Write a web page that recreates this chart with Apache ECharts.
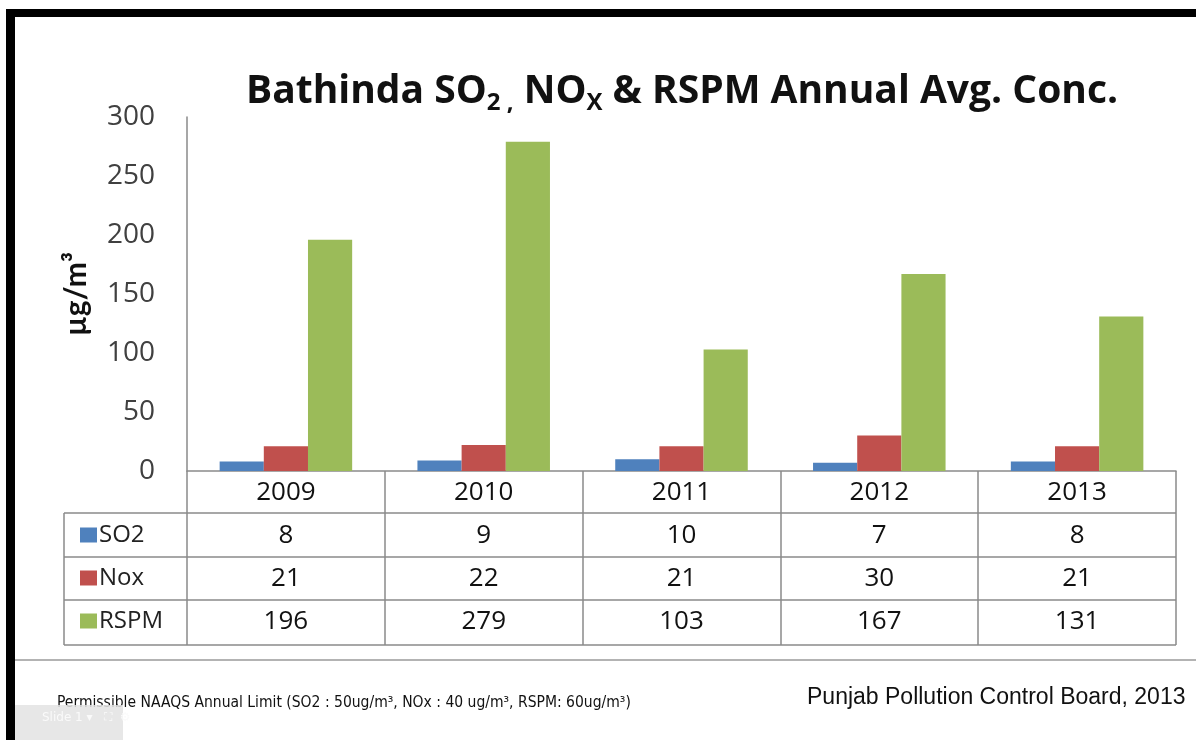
<!DOCTYPE html>
<html>
<head>
<meta charset="utf-8">
<script src="https://cdn.jsdelivr.net/npm/echarts@6/dist/echarts.min.js"></script>
<style>
  html, body { margin: 0; padding: 0; background: #fff; }
  #main { width: 1196px; height: 740px; }
</style>
</head>
<body>
<div id="main"></div>
<script>
// chart data
var years = ['2009', '2010', '2011', '2012', '2013'];
var so2 = [8, 9, 10, 7, 8];
var nox = [21, 22, 21, 30, 21];
var rspm = [196, 279, 103, 167, 131];
var seriesNames = ['SO2', 'Nox', 'RSPM'];
var yTicks = [0, 50, 100, 150, 200, 250, 300];

var colors = ['#4F81BD', '#C0504D', '#9BBB59'];
var lineGray = '#8a8a8a';

var myChart = echarts.init(document.getElementById('main'));

// table box (below the plot), grid is left 187 / right 20 / bottom at y=471
var tblLeft = 64, tblRight = 1176, rowLines = [513, 557, 600, 645];

var graphics = [
    // black slide frame
    { type: 'rect', shape: { x: 8, y: 9, width: 1188, height: 8 }, style: { fill: '#000' } },
    { type: 'rect', shape: { x: 6, y: 9, width: 9, height: 731 }, style: { fill: '#000' } },
    // footer separator
    { type: 'line', shape: { x1: 15, y1: 660, x2: 1196, y2: 660 }, style: { stroke: '#9a9a9a', lineWidth: 1.5 } },
    // table left border
    { type: 'line', shape: { x1: tblLeft, y1: rowLines[0], x2: tblLeft, y2: rowLines[3] }, style: { stroke: lineGray, lineWidth: 1.5 } },
    {
        type: 'text', left: 57, top: 695,
        style: {
            text: 'Permissible NAAQS Annual Limit (SO2 : 50ug/m³, NOx : 40 ug/m³, RSPM: 60ug/m³)',
            font: '15.5px "DejaVu Sans Condensed", "DejaVu Sans"', fill: '#111'
        }
    },
    {
        type: 'text', left: 807, top: 686,
        style: {
            text: 'Punjab Pollution Control Board, 2013',
            font: '23px "Liberation Sans", Arial', fill: '#111'
        }
    },
    // viewer toolbar overlay
    { type: 'rect', shape: { x: 15, y: 705, width: 108, height: 35 }, style: { fill: '#e3e3e3', opacity: 0.85 } },
    {
        type: 'text', left: 42, top: 712,
        style: { text: 'Slide 1 ▾   ⛶  ⚙', font: '12px "DejaVu Sans"', fill: '#fafafa' }
    }
];
rowLines.forEach(function (y) {
    graphics.push({
        type: 'line',
        shape: { x1: tblLeft, y1: y, x2: tblRight, y2: y },
        style: { stroke: lineGray, lineWidth: 1.5 }
    });
});

var option = {
    animation: false,
    backgroundColor: '#fff',
    color: colors,
    title: {
        text: '{t|Bathinda SO}{s|2 ,}{t| NO}{s|X}{t| & RSPM Annual Avg. Conc.}',
        left: 241,
        top: 63,
        textStyle: {
            rich: {
                t: { fontFamily: 'Open Sans', fontWeight: 'bold', fontSize: 39, color: '#111' },
                s: { fontFamily: 'Open Sans', fontWeight: 'bold', fontSize: 24, color: '#111', padding: [23, 0, 0, 0] }
            }
        }
    },
    legend: {
        orient: 'vertical',
        left: 75,
        top: 515,
        itemWidth: 17,
        itemHeight: 15,
        itemGap: 13,
        icon: 'rect',
        selectedMode: false,
        data: seriesNames,
        textStyle: { fontFamily: 'Open Sans', fontSize: 24, color: '#222', lineHeight: 30, padding: [0, 0, 0, -3] }
    },
    grid: { left: 187, right: 20, top: 117, bottom: 269, containLabel: false },
    xAxis: {
        type: 'category',
        data: years,
        axisLine: { lineStyle: { color: lineGray, width: 1.5 } },
        axisTick: { show: true, length: 174, alignWithLabel: false, lineStyle: { color: lineGray, width: 1.5 } },
        axisLabel: {
            interval: 0,
            margin: 0,
            fontFamily: 'Open Sans',
            fontSize: 26,
            color: '#111',
            lineHeight: 43,
            formatter: function (v, i) {
                return v + '\n' + so2[i] + '\n' + nox[i] + '\n' + rspm[i];
            }
        }
    },
    yAxis: {
        type: 'value',
        min: yTicks[0],
        max: yTicks[yTicks.length - 1],
        interval: 50,
        name: 'µg/m³',
        nameLocation: 'middle',
        nameGap: 96,
        nameRotate: 90,
        nameTextStyle: { fontFamily: 'Lato', fontWeight: 'bold', fontSize: 30, color: '#111' },
        axisLine: { show: true, lineStyle: { color: lineGray, width: 1.5 } },
        axisTick: { show: false },
        splitLine: { show: false },
        axisLabel: { margin: 32, fontFamily: 'Open Sans', fontSize: 28, color: '#404040' }
    },
    series: [
        { name: seriesNames[0], type: 'bar', data: so2, barGap: '0%', barCategoryGap: '33%' },
        { name: seriesNames[1], type: 'bar', data: nox, barGap: '0%', barCategoryGap: '33%' },
        { name: seriesNames[2], type: 'bar', data: rspm, barGap: '0%', barCategoryGap: '33%' }
    ],
    graphic: graphics
};

myChart.setOption(option);
</script>
</body>
</html>
